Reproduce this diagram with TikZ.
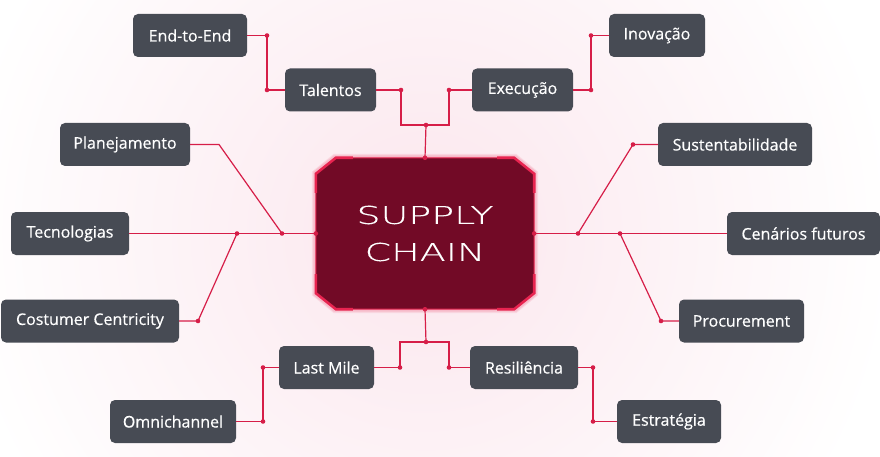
\documentclass[tikz,border=0pt]{standalone}
\usepackage{fontspec}
\setmainfont{Open Sans}[FakeBold=0.5]
\newfontfamily\widefont[FakeStretch=1.55, FakeBold=0.4]{DejaVu Sans ExtraLight}
\usetikzlibrary{calc}

\definecolor{tagfill}{RGB}{71,75,84}
\definecolor{wirered}{RGB}{214,30,72}
\definecolor{corefill}{RGB}{114,10,38}
\definecolor{coreedge}{RGB}{232,36,80}
\definecolor{glowpink}{RGB}{251,230,237}

\begin{document}
\begin{tikzpicture}
    [
        x=1pt, y=-1pt,
        tag/.style={fill=tagfill, text=white, rounded corners=5pt, minimum height=43pt,
                    inner sep=0pt, font=\fontsize{16}{18}\selectfont},
        link/.style={draw=wirered, line width=1.2pt, line join=miter},
    ]
  % Background
  \useasboundingbox (0,0) rectangle (880,457);
  \clip (0,0) rectangle (880,457);
  \fill[white] (0,0) rectangle (880,457);
  \shade[inner color=glowpink, outer color=white] (425,234) circle (470);

  % Core
  \node [minimum width=218pt, minimum height=151pt, inner sep=0pt] (sc) at (425,233.5) {};
  \foreach \g/\o in {4/0.10, 2.5/0.15}
    \fill[coreedge, opacity=\o]
      ([xshift=18pt, yshift=\g pt]sc.north west) -- ([xshift=-18pt, yshift=\g pt]sc.north east)
      -- ([xshift=\g pt, yshift=-14pt]sc.north east) -- ([xshift=\g pt, yshift=14pt]sc.south east)
      -- ([xshift=-18pt, yshift=-\g pt]sc.south east) -- ([xshift=18pt, yshift=-\g pt]sc.south west)
      -- ([xshift=-\g pt, yshift=14pt]sc.south west) -- ([xshift=-\g pt, yshift=-14pt]sc.north west) -- cycle;
  \filldraw[fill=corefill, draw=coreedge, line width=1pt]
    ([xshift=20pt]sc.north west) -- ([xshift=-20pt]sc.north east)
    -- ([yshift=-16pt]sc.north east) -- ([yshift=16pt]sc.south east)
    -- ([xshift=-20pt]sc.south east) -- ([xshift=20pt]sc.south west)
    -- ([yshift=16pt]sc.south west) -- ([yshift=-16pt]sc.north west) -- cycle;
  \draw[coreedge, line width=2.6pt]
    ([yshift=-35pt]sc.north west) -- ([yshift=-16pt]sc.north west) -- ([xshift=20pt]sc.north west) -- ([xshift=37pt]sc.north west)
    ([xshift=-37pt]sc.north east) -- ([xshift=-20pt]sc.north east) -- ([yshift=-16pt]sc.north east) -- ([yshift=-35pt]sc.north east)
    ([yshift=35pt]sc.south east) -- ([yshift=16pt]sc.south east) -- ([xshift=-20pt]sc.south east) -- ([xshift=-37pt]sc.south east)
    ([xshift=37pt]sc.south west) -- ([xshift=20pt]sc.south west) -- ([yshift=16pt]sc.south west) -- ([yshift=35pt]sc.south west);
  \node [text=white, align=center, font=\widefont\fontsize{24.5}{37}\selectfont] (title) at (sc) {SUPPLY\\CHAIN};

  % Nodes
  \node [tag, minimum width=114pt] (e2e)  at (190,35.5)   {End-to-End};
  \node [tag, minimum width=91pt]  (tal)  at (330.5,90)   {Talentos};
  \node [tag, minimum width=101pt] (exe)  at (522.5,90)   {Execução};
  \node [tag, minimum width=96pt]  (ino)  at (657,35.5)   {Inovação};
  \node [tag, minimum width=130pt] (pla)  at (125,144.5)  {Planejamento};
  \node [tag, minimum width=118pt] (tec)  at (70,233.5)   {Tecnologias};
  \node [tag, minimum width=178pt] (cos)  at (90,321)     {Costumer Centricity};
  \node [tag, minimum width=154pt] (sus)  at (735,144.5)  {Sustentabilidade};
  \node [tag, minimum width=153pt] (cen)  at (803.5,233.5) {Cenários futuros};
  \node [tag, minimum width=125pt] (pro)  at (741.5,321)  {Procurement};
  \node [tag, minimum width=95pt]  (lam)  at (326.5,367.5) {Last Mile};
  \node [tag, minimum width=126pt] (omn)  at (173,421.5)  {Omnichannel};
  \node [tag, minimum width=108pt] (res)  at (524,367.5)  {Resiliência};
  \node [tag, minimum width=104pt] (est)  at (669,421.5)  {Estratégia};

  % Junctions
  \coordinate (jtop)  at (426,125);
  \coordinate (jbot)  at (426,342);
  \coordinate (jtal)  at (401,90);
  \coordinate (jexe)  at (449,90);
  \coordinate (je2e)  at (267,35.5);
  \coordinate (jtalw) at (267,90);
  \coordinate (jexee) at (591,90);
  \coordinate (jino)  at (591,35.5);
  \coordinate (jtec)  at (237,233.5);
  \coordinate (jpla)  at (282,233.5);
  \coordinate (kpla)  at (219,144.5);
  \coordinate (jcos)  at (198,321);
  \coordinate (jsus)  at (578,233.5);
  \coordinate (jsusw) at (633,144.5);
  \coordinate (jpro)  at (620,233.5);
  \coordinate (jprow) at (661,321);
  \coordinate (jlam)  at (400,367.5);
  \coordinate (jres)  at (449,367.5);
  \coordinate (jlamw) at (263,367.5);
  \coordinate (jomn)  at (263,421.5);
  \coordinate (jrese) at (593,367.5);
  \coordinate (jest)  at (593,421.5);

  % Connections
  \draw [link] (sc.north) -- (jtop);
  \draw [link] (tal.east) -- (jtal) |- (jtop) -| (jexe) -- (exe.west);
  \draw [link] (e2e.east) -- (je2e) -- (jtalw) -- (tal.west);
  \draw [link] (exe.east) -- (jexee) -- (jino) -- (ino.west);
  \draw [link] (tec.east) -- (sc.west);
  \draw [link] (pla.east) -- (kpla) -- (jpla);
  \draw [link] (cos.east) -- (jcos) -- (jtec);
  \draw [link] (sc.east) -- (cen.west);
  \draw [link] (sus.west) -- (jsusw) -- (jsus);
  \draw [link] (pro.west) -- (jprow) -- (jpro);
  \draw [link] (sc.south) -- (jbot);
  \draw [link] (lam.east) -- (jlam) |- (jbot) -| (jres) -- (res.west);
  \draw [link] (lam.west) -- (jlamw) -- (jomn) -- (omn.east);
  \draw [link] (res.east) -- (jrese) -- (jest) -- (est.west);

  % Dots
  \foreach \p in {sc.north, sc.south, sc.west, sc.east, jtop, jbot, jtal, jexe, je2e, jtalw,
                  jexee, jino, jtec, jpla, jcos, jsus, jsusw, jpro, jprow, jlam, jres,
                  jlamw, jomn, jrese, jest}
    \fill [wirered] (\p) circle (2.3);
\end{tikzpicture}
\end{document}
